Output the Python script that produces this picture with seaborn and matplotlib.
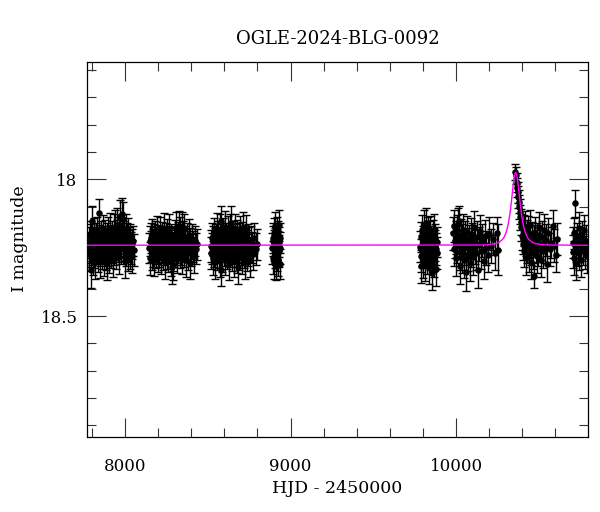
import numpy as np
import pandas as pd
import matplotlib
matplotlib.use("Agg")
import matplotlib.pyplot as plt
from matplotlib.ticker import MultipleLocator, FuncFormatter
import seaborn as sns

# (HJD-2450000, I mag, error in mmag), season by season
season_1 = [
    (7780, 18.262, 58), (7782, 18.231, 55), (7785, 18.274, 61), (7788, 18.205, 54), (7790, 18.248, 57),
    (7792, 18.331, 66), (7795, 18.219, 56), (7798, 18.151, 52), (7801, 18.256, 59), (7804, 18.287, 62),
    (7807, 18.228, 55), (7810, 18.196, 53), (7813, 18.265, 58), (7816, 18.241, 56), (7819, 18.302, 63),
    (7822, 18.214, 54), (7825, 18.253, 57), (7828, 18.237, 60), (7831, 18.189, 53), (7834, 18.276, 61),
    (7837, 18.244, 56), (7840, 18.222, 55), (7843, 18.124, 51), (7846, 18.259, 58), (7849, 18.298, 64),
    (7852, 18.233, 55), (7855, 18.207, 54), (7858, 18.268, 59), (7861, 18.245, 57), (7864, 18.183, 52),
    (7867, 18.251, 58), (7870, 18.292, 62), (7873, 18.226, 55), (7876, 18.239, 57), (7879, 18.201, 54),
    (7882, 18.271, 60), (7885, 18.248, 56), (7888, 18.216, 55), (7891, 18.305, 63), (7894, 18.235, 56),
    (7897, 18.192, 53), (7900, 18.258, 58), (7903, 18.226, 55), (7906, 18.281, 61), (7909, 18.243, 57),
    (7912, 18.178, 56), (7915, 18.232, 55), (7918, 18.264, 59), (7921, 18.211, 60), (7924, 18.249, 57),
    (7927, 18.296, 62), (7930, 18.221, 55), (7933, 18.186, 58), (7936, 18.255, 58), (7939, 18.238, 56),
    (7942, 18.174, 61), (7945, 18.229, 55), (7948, 18.267, 59), (7951, 18.205, 57), (7954, 18.168, 62),
    (7957, 18.246, 57), (7960, 18.213, 55), (7963, 18.284, 61), (7966, 18.197, 58), (7969, 18.232, 56),
    (7972, 18.138, 63), (7975, 18.251, 58), (7978, 18.219, 55), (7981, 18.187, 60), (7984, 18.128, 58),
    (7987, 18.228, 56), (7990, 18.145, 64), (7993, 18.242, 57), (7996, 18.206, 55), (7999, 18.299, 62),
    (8002, 18.225, 56), (8005, 18.183, 58), (8008, 18.258, 58), (8011, 18.214, 55), (8014, 18.237, 57),
    (8017, 18.276, 60), (8020, 18.198, 56), (8023, 18.244, 57), (8026, 18.229, 56), (8029, 18.268, 59),
    (8032, 18.219, 55), (8036, 18.252, 58), (8040, 18.237, 56), (8045, 18.281, 61), (8050, 18.226, 55),
    (8055, 18.258, 58),
]

season_2 = [
    (8147, 18.251, 56), (8150, 18.226, 55), (8153, 18.288, 60), (8156, 18.214, 54), (8159, 18.247, 57),
    (8162, 18.272, 59), (8165, 18.199, 53), (8168, 18.236, 56), (8171, 18.261, 58), (8174, 18.218, 55),
    (8177, 18.294, 61), (8180, 18.242, 57), (8183, 18.207, 54), (8186, 18.266, 59), (8189, 18.231, 56),
    (8192, 18.253, 57), (8195, 18.189, 56), (8198, 18.278, 60), (8201, 18.244, 57), (8204, 18.221, 55),
    (8207, 18.262, 58), (8210, 18.196, 57), (8213, 18.239, 56), (8216, 18.285, 60), (8219, 18.227, 55),
    (8222, 18.249, 57), (8225, 18.211, 55), (8228, 18.271, 59), (8231, 18.236, 56), (8234, 18.182, 58),
    (8237, 18.257, 58), (8240, 18.229, 55), (8243, 18.301, 62), (8246, 18.216, 55), (8249, 18.245, 57),
    (8252, 18.268, 59), (8255, 18.203, 57), (8258, 18.238, 56), (8261, 18.279, 60), (8264, 18.224, 55),
    (8267, 18.186, 58), (8270, 18.252, 57), (8273, 18.233, 56), (8276, 18.291, 61), (8279, 18.219, 55),
    (8282, 18.321, 60), (8285, 18.248, 57), (8288, 18.275, 59), (8291, 18.313, 56), (8294, 18.232, 56),
    (8297, 18.264, 58), (8300, 18.205, 55), (8303, 18.243, 57), (8306, 18.178, 57), (8309, 18.257, 58),
    (8312, 18.226, 55), (8315, 18.284, 60), (8318, 18.212, 55), (8321, 18.249, 57), (8324, 18.171, 56),
    (8327, 18.238, 56), (8330, 18.266, 59), (8333, 18.195, 56), (8336, 18.254, 58), (8339, 18.222, 55),
    (8342, 18.287, 60), (8345, 18.176, 57), (8348, 18.241, 57), (8351, 18.209, 55), (8354, 18.262, 58),
    (8357, 18.183, 57), (8360, 18.247, 57), (8364, 18.228, 56), (8368, 18.296, 61), (8372, 18.214, 55),
    (8376, 18.239, 57), (8380, 18.271, 59), (8385, 18.202, 56), (8390, 18.306, 60), (8395, 18.235, 56),
    (8400, 18.258, 58), (8406, 18.219, 55), (8412, 18.247, 57), (8418, 18.281, 60), (8424, 18.226, 55),
    (8430, 18.253, 57), (8436, 18.238, 56),
]

season_3 = [
    (8517, 18.244, 57), (8520, 18.268, 59), (8523, 18.213, 55), (8526, 18.252, 57), (8529, 18.287, 61),
    (8532, 18.226, 55), (8535, 18.198, 57), (8538, 18.261, 58), (8541, 18.235, 56), (8544, 18.304, 62),
    (8547, 18.219, 55), (8550, 18.248, 57), (8553, 18.181, 58), (8556, 18.273, 60), (8559, 18.239, 56),
    (8562, 18.208, 56), (8565, 18.266, 59), (8568, 18.229, 55), (8571, 18.295, 61), (8574, 18.187, 60),
    (8577, 18.153, 55), (8579, 18.331, 60), (8581, 18.245, 57), (8584, 18.216, 55), (8587, 18.277, 60),
    (8590, 18.234, 56), (8593, 18.201, 58), (8596, 18.258, 58), (8599, 18.223, 55), (8602, 18.289, 61),
    (8605, 18.176, 60), (8608, 18.247, 57), (8611, 18.214, 55), (8614, 18.269, 59), (8617, 18.238, 56),
    (8620, 18.193, 58), (8623, 18.255, 58), (8626, 18.307, 62), (8629, 18.228, 55), (8632, 18.185, 59),
    (8635, 18.261, 58), (8638, 18.242, 57), (8641, 18.159, 62), (8644, 18.227, 55), (8647, 18.274, 60),
    (8650, 18.209, 56), (8653, 18.251, 57), (8656, 18.236, 56), (8659, 18.297, 61), (8662, 18.218, 55),
    (8665, 18.183, 58), (8668, 18.263, 58), (8671, 18.231, 56), (8674, 18.282, 60), (8677, 18.204, 56),
    (8680, 18.321, 62), (8683, 18.246, 57), (8686, 18.215, 55), (8689, 18.272, 59), (8692, 18.229, 55),
    (8695, 18.191, 57), (8698, 18.257, 58), (8701, 18.238, 56), (8704, 18.285, 60), (8707, 18.211, 55),
    (8710, 18.249, 57), (8713, 18.178, 59), (8716, 18.266, 59), (8719, 18.234, 56), (8722, 18.302, 61),
    (8725, 18.221, 55), (8728, 18.188, 58), (8731, 18.253, 57), (8734, 18.241, 57), (8737, 18.276, 60),
    (8740, 18.217, 55), (8745, 18.259, 58), (8750, 18.232, 56), (8756, 18.295, 61), (8762, 18.224, 55),
    (8768, 18.248, 57), (8775, 18.272, 59), (8782, 18.213, 55), (8790, 18.256, 58), (8798, 18.238, 56),
]

season_4 = [
    (8889, 18.252, 57), (8891, 18.226, 55), (8893, 18.287, 60), (8895, 18.213, 55), (8897, 18.241, 57),
    (8899, 18.305, 61), (8901, 18.198, 56), (8903, 18.264, 59), (8905, 18.233, 56), (8907, 18.176, 57),
    (8909, 18.249, 57), (8911, 18.318, 50), (8913, 18.221, 55), (8915, 18.258, 58), (8917, 18.192, 56),
    (8919, 18.276, 60), (8921, 18.238, 56), (8923, 18.207, 55), (8925, 18.294, 61), (8927, 18.245, 57),
    (8929, 18.168, 56), (8931, 18.262, 58), (8933, 18.229, 56), (8935, 18.311, 55), (8937, 18.215, 55),
    (8939, 18.251, 57),
]

season_5 = [
    (9783, 18.247, 57), (9785, 18.212, 55), (9788, 18.279, 60), (9790, 18.318, 60), (9793, 18.186, 56),
    (9795, 18.262, 58), (9798, 18.298, 61), (9800, 18.225, 55), (9803, 18.253, 57), (9805, 18.171, 58),
    (9808, 18.238, 56), (9810, 18.309, 62), (9813, 18.216, 55), (9815, 18.264, 59), (9818, 18.244, 57),
    (9820, 18.158, 55), (9823, 18.286, 60), (9825, 18.229, 55), (9828, 18.257, 58), (9830, 18.195, 56),
    (9833, 18.236, 56), (9835, 18.321, 62), (9838, 18.208, 55), (9840, 18.271, 59), (9843, 18.246, 57),
    (9845, 18.189, 56), (9848, 18.262, 58), (9850, 18.224, 55), (9853, 18.342, 62), (9855, 18.251, 57),
    (9858, 18.203, 55), (9860, 18.277, 60), (9863, 18.235, 56), (9865, 18.184, 57), (9868, 18.296, 61),
    (9870, 18.242, 57), (9873, 18.219, 55), (9876, 18.327, 62), (9880, 18.256, 58), (9884, 18.228, 55),
    (9887, 18.268, 59),
]

season_6 = [
    (9984, 18.198, 62), (9987, 18.171, 58), (9990, 18.254, 63), (9994, 18.226, 60), (9997, 18.289, 66),
    (10001, 18.212, 60), (10005, 18.187, 58), (10008, 18.243, 62), (10012, 18.165, 60), (10015, 18.152, 55),
    (10019, 18.231, 61), (10023, 18.318, 66), (10026, 18.267, 63), (10030, 18.204, 60), (10034, 18.279, 65),
    (10038, 18.223, 60), (10042, 18.186, 59), (10046, 18.251, 62), (10050, 18.296, 66), (10055, 18.214, 60),
    (10059, 18.339, 68), (10063, 18.238, 61), (10068, 18.193, 59), (10072, 18.272, 64), (10077, 18.229, 61),
    (10082, 18.305, 66), (10087, 18.201, 60), (10092, 18.258, 63), (10097, 18.219, 60), (10103, 18.284, 65),
    (10108, 18.176, 59), (10114, 18.246, 62), (10120, 18.268, 64), (10126, 18.211, 60), (10132, 18.331, 68),
    (10138, 18.237, 61), (10145, 18.189, 59), (10152, 18.263, 63), (10159, 18.224, 60), (10166, 18.297, 66),
    (10174, 18.208, 60), (10182, 18.252, 63), (10191, 18.276, 64), (10200, 18.199, 60), (10210, 18.244, 62),
    (10220, 18.218, 60), (10232, 18.268, 64), (10245, 18.198, 62), (10255, 18.257, 92),
]

season_7 = [
    (10358, 17.974, 30), (10361, 17.985, 32), (10366, 18.012, 35), (10369, 18.030, 36), (10371, 18.048, 38),
    (10374, 18.066, 40), (10377, 18.082, 42), (10380, 18.101, 44), (10384, 18.118, 45), (10387, 18.139, 47),
    (10391, 18.157, 48), (10395, 18.176, 50), (10399, 18.207, 52), (10402, 18.219, 53),
    (10406, 18.238, 58), (10409, 18.186, 56), (10413, 18.262, 60), (10416, 18.173, 56), (10420, 18.221, 58),
    (10424, 18.289, 62), (10427, 18.205, 57), (10431, 18.247, 59), (10435, 18.192, 57), (10439, 18.276, 61),
    (10443, 18.231, 58), (10447, 18.168, 56), (10451, 18.254, 60), (10455, 18.302, 63), (10460, 18.213, 57),
    (10464, 18.267, 60), (10468, 18.226, 58), (10472, 18.353, 46), (10477, 18.196, 57), (10481, 18.245, 59),
    (10486, 18.281, 61), (10491, 18.219, 58), (10496, 18.258, 60), (10501, 18.174, 56), (10506, 18.236, 58),
    (10512, 18.294, 62), (10518, 18.209, 57), (10524, 18.263, 60), (10530, 18.185, 57), (10537, 18.248, 59),
    (10544, 18.223, 58), (10551, 18.311, 63), (10558, 18.197, 57), (10566, 18.256, 60), (10574, 18.231, 58),
    (10583, 18.169, 56), (10592, 18.242, 59), (10601, 18.277, 61), (10610, 18.218, 58),
]

season_8 = [
    (10704, 18.231, 58), (10707, 18.264, 60), (10711, 18.198, 57), (10715, 18.289, 62), (10719, 18.088, 50),
    (10723, 18.245, 59), (10727, 18.306, 63), (10731, 18.216, 58), (10735, 18.258, 60), (10740, 18.178, 57),
    (10745, 18.271, 61), (10750, 18.232, 58), (10755, 18.295, 62), (10760, 18.209, 57), (10766, 18.252, 60),
    (10772, 18.187, 57), (10778, 18.268, 61), (10784, 18.226, 58), (10790, 18.281, 62),
]

# microlensing model curve (magenta)
model_t = [7772, 10160, 10200, 10240, 10260, 10280, 10290, 10300, 10310, 10315, 10320, 10325,
           10330, 10335, 10340, 10345, 10350, 10355, 10360, 10365, 10370, 10375, 10380, 10385,
           10390, 10395, 10400, 10405, 10410, 10420, 10430, 10440, 10460, 10480, 10520, 10560, 10800]
model_mag = [18.241, 18.240, 18.239, 18.235, 18.230, 18.220, 18.211, 18.198, 18.177, 18.163, 18.146, 18.126,
             18.102, 18.076, 18.048, 18.020, 17.997, 17.980, 17.974, 17.980, 17.997, 18.020, 18.048, 18.076,
             18.102, 18.126, 18.146, 18.163, 18.177, 18.198, 18.211, 18.220, 18.230, 18.235, 18.239, 18.240, 18.241]

seasons = [season_1, season_2, season_3, season_4, season_5, season_6, season_7, season_8]
df = pd.DataFrame([row for s in seasons for row in s], columns=["hjd", "mag", "err_mmag"])
df["err"] = df["err_mmag"] / 1000.0

sns.set_theme(style="ticks")
plt.rcParams["font.family"] = ["DejaVu Serif"]
plt.rcParams["text.color"] = "black"
plt.rcParams["axes.labelcolor"] = "black"
plt.rcParams["xtick.color"] = "black"
plt.rcParams["ytick.color"] = "black"

fig = plt.figure(figsize=(6, 5.12), dpi=100)
ax = fig.add_axes([0.1455, 0.1471, 0.8340, 0.7312])

ax.errorbar(df["hjd"], df["mag"], yerr=df["err"], fmt="none", ecolor="black",
            elinewidth=1.0, capsize=2.6, capthick=1.0, zorder=2)
sns.scatterplot(data=df, x="hjd", y="mag", color="black", s=22, linewidth=0, ax=ax, zorder=3)
sns.lineplot(x=model_t, y=model_mag, color="#ff00ff", linewidth=1.0, ax=ax, zorder=4)

ax.set_xlim(7772, 10795)
ax.set_ylim(18.941, 17.572)

ax.xaxis.set_major_locator(MultipleLocator(1000))
ax.xaxis.set_minor_locator(MultipleLocator(200))
ax.yaxis.set_major_locator(MultipleLocator(0.5))
ax.yaxis.set_minor_locator(MultipleLocator(0.1))
fmt = FuncFormatter(lambda v, p: "%g" % v)
ax.xaxis.set_major_formatter(fmt)
ax.yaxis.set_major_formatter(fmt)

ax.tick_params(which="both", direction="in", top=True, right=True, color="#333333", width=0.8)
ax.tick_params(which="major", length=13.5)
ax.tick_params(which="minor", length=6.8)
ax.tick_params(axis="x", which="major", pad=15, labelsize=12, labelcolor="black")
ax.tick_params(axis="y", which="major", pad=7, labelsize=12, labelcolor="black")
for sp in ax.spines.values():
    sp.set_color("black")
    sp.set_linewidth(0.9)

ax.set_xlabel("HJD - 2450000", fontsize=12.5, va="center", color="black")
ax.xaxis.set_label_coords(0.5, -0.1384)
ax.set_ylabel("I magnitude", fontsize=12.5, va="center", color="black")
ax.yaxis.set_label_coords(-0.1345, 0.528)

fig.text(337.5 / 600, 1 - 38.5 / 512, "OGLE-2024-BLG-0092", fontsize=13,
         ha="center", va="center", color="black")

fig.savefig("out.png", dpi=100)
